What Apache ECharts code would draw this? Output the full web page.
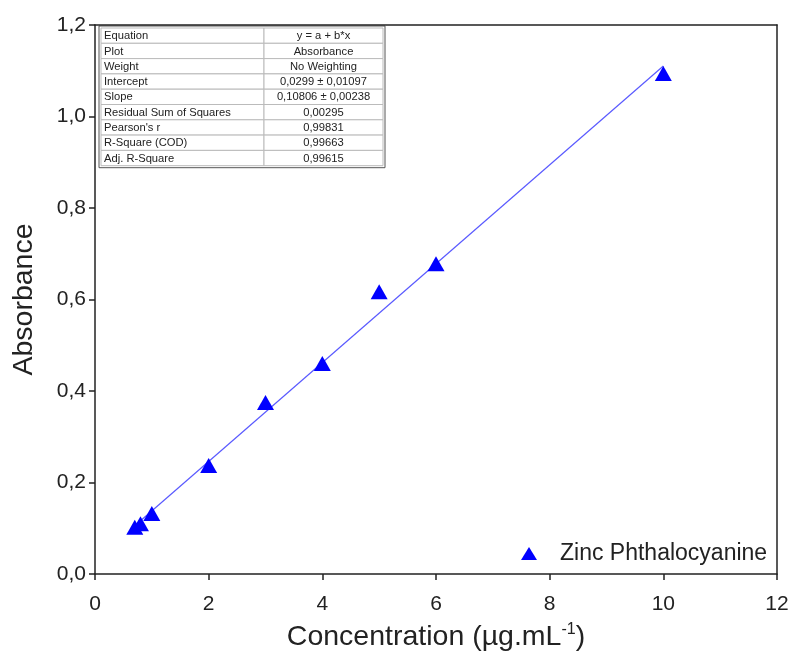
<!DOCTYPE html>
<html>
<head>
<meta charset="utf-8">
<script src="https://cdn.jsdelivr.net/npm/echarts@6/dist/echarts.min.js"></script>
<style>html,body{margin:0;padding:0;background:#fff}#c{width:792px;height:654px}</style>
</head>
<body>
<div id="c"></div>
<script>
const concentration = [0.7, 0.8, 1, 2, 3, 4, 5, 6, 10];
const absorbance = [0.102, 0.110, 0.132, 0.237, 0.375, 0.460, 0.617, 0.678, 1.094];
const fitIntercept = 0.0299;
const fitSlope = 0.10806;
const fitRange = [0.7, 10];
const tableLabels = ['Equation','Plot','Weight','Intercept','Slope','Residual Sum of Squares',"Pearson's r",'R-Square (COD)','Adj. R-Square'];
const tableValues = ['y = a + b*x','Absorbance','No Weighting','0,0299 \u00b1 0,01097','0,10806 \u00b1 0,00238','0,00295','0,99831','0,99663','0,99615'];
const seriesName = 'Zinc Phthalocyanine';

const fitLine = fitRange.map(x => [x, fitIntercept + fitSlope * x]);
const points = concentration.map((x, i) => [x, absorbance[i]]);

const font = 'Liberation Sans, Arial, sans-serif';
const chart = echarts.init(document.getElementById('c'));

// table graphic
const tX = 101, tY = 28, rowH = 15.3, c1 = 163, c2 = 119;
const tbl = [];
tbl.push({type:'rect', shape:{x:tX-2,y:tY-2,width:c1+c2+4,height:rowH*tableLabels.length+4}, style:{fill:'#fff',stroke:'#555',lineWidth:1}});
tableLabels.forEach((lab, i) => {
  const y = tY + i*rowH;
  tbl.push({type:'rect', shape:{x:tX,y:y,width:c1,height:rowH}, style:{fill:'#fff',stroke:'#bbb',lineWidth:1}});
  tbl.push({type:'rect', shape:{x:tX+c1,y:y,width:c2,height:rowH}, style:{fill:'#fff',stroke:'#bbb',lineWidth:1}});
  tbl.push({type:'text', x:tX+3, y:y+rowH/2+0.5, style:{text:lab, font:'11.2px '+font, fill:'#222', verticalAlign:'middle'}});
  tbl.push({type:'text', x:tX+c1+c2/2, y:y+rowH/2+0.5, style:{text:tableValues[i], font:'11.2px '+font, fill:'#222', align:'center', verticalAlign:'middle'}});
});

chart.setOption({
  backgroundColor: '#fff',
  animation: false,
  grid: {left: 95, right: 15, top: 25, bottom: 80, show: false, containLabel: false, outerBoundsMode: 'none'},
  legend: {
    data: [{name: seriesName, icon: 'triangle'}],
    left: 516, top: 537, itemWidth: 16, itemHeight: 13, itemGap: 10,
    textStyle: {fontFamily: font, fontSize: 23, color: '#222', padding: [0, 0, 0, 18]}
  },
  xAxis: [{
    type: 'value', min: 0, max: 12, interval: 2,
    name: '{a|Concentration (\u00b5g.mL}{s|-1}{a|)}',
    nameLocation: 'middle', nameGap: 48,
    nameTextStyle: {rich: {a: {fontFamily: font, fontSize: 28.5, color: '#222'}, s: {fontFamily: font, fontSize: 16, color: '#222', verticalAlign: 'top', padding: [0,0,14,0]}}},
    axisLine: {onZero: false, lineStyle: {color: '#222', width: 1.5}},
    axisTick: {inside: false, length: 6, lineStyle: {color: '#222', width: 1.5}},
    axisLabel: {fontFamily: font, fontSize: 21, color: '#222', margin: 20},
    splitLine: {show: false}
  }, {
    type: 'value', min: 0, max: 12, interval: 2, position: 'top',
    axisLine: {onZero: false, lineStyle: {color: '#222', width: 1.5}},
    axisTick: {show: false}, axisLabel: {show: false}, splitLine: {show: false}
  }],
  yAxis: [{
    type: 'value', min: 0, max: 1.2, interval: 0.2,
    name: 'Absorbance', nameLocation: 'middle', nameGap: 56,
    nameTextStyle: {fontFamily: font, fontSize: 28.5, color: '#222'},
    axisLine: {onZero: false, lineStyle: {color: '#222', width: 1.5}},
    axisTick: {inside: false, length: 6, lineStyle: {color: '#222', width: 1.5}},
    axisLabel: {fontFamily: font, fontSize: 21, color: '#222', margin: 9, formatter: v => v.toFixed(1).replace('.', ',')},
    splitLine: {show: false}
  }, {
    type: 'value', min: 0, max: 1.2, interval: 0.2, position: 'right',
    axisLine: {onZero: false, lineStyle: {color: '#222', width: 1.5}},
    axisTick: {show: false}, axisLabel: {show: false}, splitLine: {show: false}
  }],
  series: [{
    name: 'fit', type: 'line', data: fitLine, symbol: 'none',
    lineStyle: {color: '#5a5aff', width: 1.2}, z: 2
  }, {
    name: seriesName, type: 'scatter', data: points,
    symbol: 'triangle', symbolSize: [17, 15],
    itemStyle: {color: '#0000ff', opacity: 1}, z: 3
  }],
  graphic: [{type: 'group', children: tbl, z: 10}]
});
</script>
</body>
</html>
